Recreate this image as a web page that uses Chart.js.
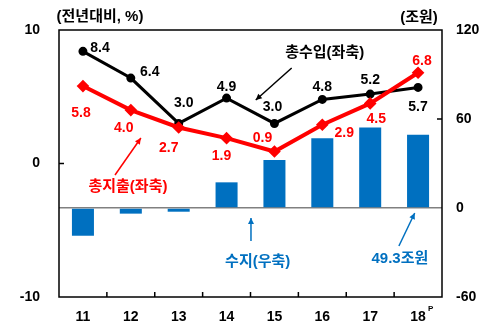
<!DOCTYPE html>
<html>
<head>
<meta charset="utf-8">
<script src="https://cdn.jsdelivr.net/npm/chart.js@4"></script>
<style>
  body { margin: 0; background: #fff; }
  #wrap { width: 500px; height: 327px; }
</style>
</head>
<body>
<div id="wrap"><canvas id="grafico" width="500" height="327"></canvas></div>
<script>
// dati
const anni = ["11", "12", "13", "14", "15", "16", "17", "18"];
const totaleEntrate = [8.4, 6.4, 3.0, 4.9, 3.0, 4.8, 5.2, 5.7];   // 총수입, asse sx
const totaleSpese = [5.8, 4.0, 2.7, 1.9, 0.9, 2.9, 4.5, 6.8];     // 총지출, asse sx
const saldo = [-18.7, -3.8, -2.5, 17.3, 32.4, 47.0, 54.2, 49.3];  // 수지, asse dx (조원)
const tickSinistra = [-10, 0, 10];
const tickDestra = [-60, 0, 60, 120];

// spostamento delle etichette rispetto al punto (px)
const offNero = [[17, -3], [19, -6], [5, -20], [0, -11], [-2, -16], [0, -12], [0, -14], [0, 20]];
const offRosso = [[-2, 27], [-7, 18], [-10, 21], [-5, 18], [-12, -13], [22, 8], [6, 16], [4, -12]];

const FONT = '"Liberation Sans", "Noto Sans CJK KR", sans-serif';
const BLU = "#0070C0";
const ROSSO = "#FF0000";

function freccia(ctx, x1, y1, x2, y2, colore) {
  ctx.save();
  ctx.strokeStyle = colore;
  ctx.fillStyle = colore;
  ctx.lineWidth = 1.5;
  ctx.beginPath();
  ctx.moveTo(x1, y1);
  ctx.lineTo(x2, y2);
  ctx.stroke();
  let a = Math.atan2(y2 - y1, x2 - x1);
  let l = 6, w = 3;
  ctx.beginPath();
  ctx.moveTo(x2, y2);
  ctx.lineTo(x2 - l * Math.cos(a) + w * Math.sin(a), y2 - l * Math.sin(a) - w * Math.cos(a));
  ctx.lineTo(x2 - l * Math.cos(a) - w * Math.sin(a), y2 - l * Math.sin(a) + w * Math.cos(a));
  ctx.closePath();
  ctx.fill();
  ctx.restore();
}

function testo(ctx, t, x, y, colore, size, peso) {
  ctx.save();
  ctx.fillStyle = colore;
  ctx.font = (peso || "bold") + " " + size + "px " + FONT;
  ctx.textAlign = "center";
  ctx.textBaseline = "middle";
  ctx.fillText(t, x, y);
  ctx.restore();
}

const decorazioni = {
  id: "decorazioni",
  afterDatasetsDraw(chart) {
    let ctx = chart.ctx;
    let a = chart.chartArea;
    let sx = chart.scales.x, sy = chart.scales.y, sy1 = chart.scales.y1;

    // cornice
    ctx.save();
    ctx.strokeStyle = "#000";
    ctx.lineWidth = 1.5;
    ctx.strokeRect(a.left, a.top, a.right - a.left, a.bottom - a.top);
    // tacche
    ctx.beginPath();
    let y0 = sy.getPixelForValue(0);
    ctx.moveTo(a.left, y0); ctx.lineTo(a.left + 5, y0);
    let y60 = sy1.getPixelForValue(60);
    ctx.moveTo(a.right, y60); ctx.lineTo(a.right - 5, y60);
    for (let i = 1; i < anni.length; i++) {
      let xx = (sx.getPixelForValue(i - 1) + sx.getPixelForValue(i)) / 2;
      ctx.moveTo(xx, a.bottom); ctx.lineTo(xx, a.bottom - 5);
    }
    ctx.stroke();
    ctx.restore();

    // etichette dei valori
    let m0 = chart.getDatasetMeta(0), m1 = chart.getDatasetMeta(1);
    m0.data.forEach((p, i) => {
      testo(ctx, totaleEntrate[i].toFixed(1), p.x + offNero[i][0], p.y + offNero[i][1], "#000", 14);
    });
    m1.data.forEach((p, i) => {
      testo(ctx, totaleSpese[i].toFixed(1), p.x + offRosso[i][0], p.y + offRosso[i][1], ROSSO, 14);
    });

    // titoli degli assi
    testo(ctx, "(전년대비, %)", a.left + 41, a.top - 13, "#000", 15, "bold");
    testo(ctx, "(조원)", a.right - 23, a.top - 12, "#000", 15, "bold");

    // P su 18
    ctx.save();
    ctx.font = "bold 8px " + FONT;
    ctx.fillStyle = "#000";
    ctx.fillText("P", sx.getPixelForValue(7) + 10, a.bottom + 14);
    ctx.restore();

    // annotazioni
    let X = (i) => sx.getPixelForValue(i);
    testo(ctx, "총수입(좌축)", X(5.05), sy.getPixelForValue(8.28), "#000", 15);
    freccia(ctx, X(4.36), sy.getPixelForValue(7.15), X(3.61), sy.getPixelForValue(4.76), "#000");

    testo(ctx, "총지출(좌축)", X(0.94), sy.getPixelForValue(-1.76), ROSSO, 15);
    freccia(ctx, X(0.67), sy.getPixelForValue(-0.86), X(1.21), sy.getPixelForValue(1.91), ROSSO);

    testo(ctx, "수지(우축)", X(3.65), sy1.getPixelForValue(-36.4), BLU, 15);
    freccia(ctx, X(3.51), sy1.getPixelForValue(-22.3), X(3.51), sy1.getPixelForValue(-6.7), BLU);

    testo(ctx, "49.3조원", X(6.62), sy1.getPixelForValue(-34.4), BLU, 15);
    freccia(ctx, X(6.6), sy1.getPixelForValue(-25.6), X(6.93), sy1.getPixelForValue(-3.4), BLU);
  }
};

let ctx = document.getElementById("grafico").getContext("2d");
new Chart(ctx, {
  data: {
    labels: anni,
    datasets: [
      {
        type: "line",
        label: "총수입",
        data: totaleEntrate,
        yAxisID: "y",
        borderColor: "#000",
        backgroundColor: "#000",
        borderWidth: 3,
        pointRadius: 3,
        pointStyle: "circle",
        order: 1,
      },
      {
        type: "line",
        label: "총지출",
        data: totaleSpese,
        yAxisID: "y",
        borderColor: ROSSO,
        backgroundColor: ROSSO,
        borderWidth: 4,
        pointRadius: 3.5,
        pointStyle: "rectRot",
        order: 0,
      },
      {
        type: "bar",
        label: "수지",
        data: saldo,
        yAxisID: "y1",
        backgroundColor: BLU,
        categoryPercentage: 1,
        barPercentage: 0.46,
        order: 2,
      },
    ],
  },
  options: {
    responsive: false,
    animation: false,
    layout: { padding: { top: 30, left: 0, right: 0, bottom: 0 } },
    plugins: { legend: { display: false }, tooltip: { enabled: false } },
    scales: {
      x: {
        grid: { display: false, drawTicks: false },
        border: { display: false },
        ticks: {
          padding: 12,
          color: "#000",
          font: { family: FONT, size: 14, weight: "bold" },
        },
        afterFit: (s) => { s.height = 30; },
      },
      y: {
        position: "left",
        min: -10,
        max: 10,
        afterBuildTicks: (s) => { s.ticks = tickSinistra.map((v) => ({ value: v })); },
        grid: { display: false, drawTicks: false },
        border: { display: false },
        ticks: {
          padding: 19,
          color: "#000",
          font: { family: FONT, size: 14, weight: "bold" },
        },
        afterFit: (s) => { s.width = 59; },
      },
      y1: {
        position: "right",
        min: -60,
        max: 120,
        afterBuildTicks: (s) => { s.ticks = tickDestra.map((v) => ({ value: v })); },
        grid: {
          drawTicks: false,
          lineWidth: 1.5,
          color: (c) => (c.tick && c.tick.value === 0 ? "#808080" : "rgba(0,0,0,0)"),
        },
        border: { display: false },
        ticks: {
          padding: 14,
          color: "#000",
          font: { family: FONT, size: 14, weight: "bold" },
        },
        afterFit: (s) => { s.width = 58; },
      },
    },
  },
  plugins: [decorazioni],
});
</script>
</body>
</html>
